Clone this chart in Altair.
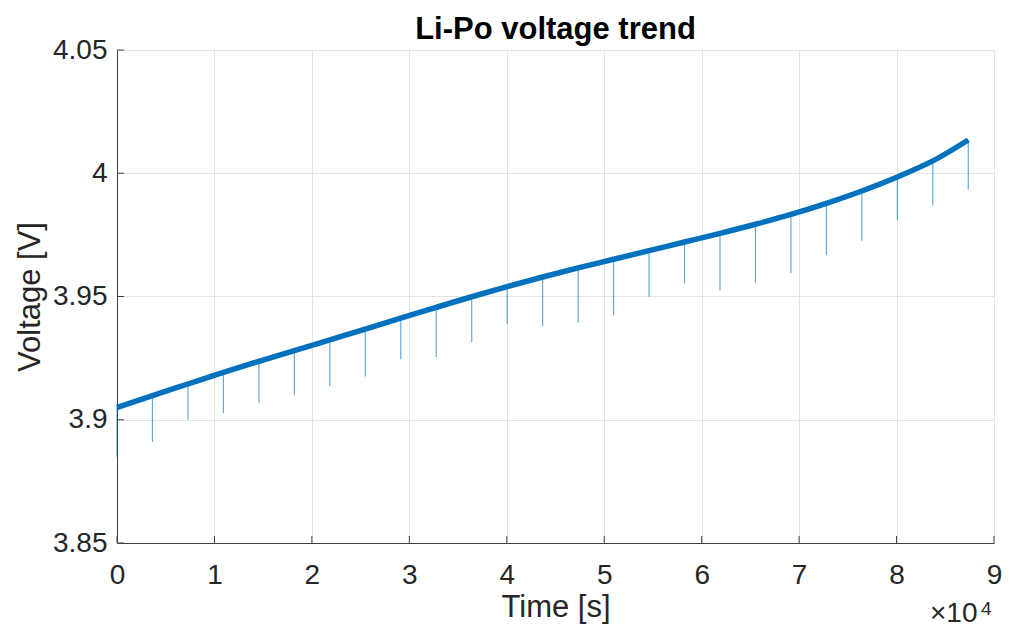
import altair as alt
import pandas as pd

# Sample times (s) at each periodic dip
TIME_S = [0, 3640, 7280, 10920, 14560, 18200, 21840, 25480, 29120, 32760,
          36400, 40040, 43680, 47320, 50960, 54600, 58240, 61880, 65520,
          69160, 72800, 76440, 80080, 83720, 87360]
# Battery voltage trend at those times (V)
LINE_V = [3.905, 3.9098, 3.9145, 3.9192, 3.9237, 3.928, 3.9324, 3.9368,
          3.9412, 3.9456, 3.9499, 3.954, 3.9579, 3.9616, 3.9651, 3.9686,
          3.9721, 3.9756, 3.9793, 3.9833, 3.9878, 3.9928, 3.9985, 4.005,
          4.0135]
# Minimum voltage of each dip (V)
SPIKE_MIN = [3.885, 3.891, 3.900, 3.9027, 3.9068, 3.910, 3.9137, 3.9175,
             3.9245, 3.9255, 3.9314, 3.9388, 3.9379, 3.9394, 3.9424, 3.9499,
             3.9553, 3.9524, 3.9558, 3.9594, 3.9667, 3.9726, 3.9809, 3.987,
             3.9933]

X_TICKS = [0, 10000, 20000, 30000, 40000, 50000, 60000, 70000, 80000, 90000]
Y_TICKS = [3.85, 3.9, 3.95, 4.0, 4.05]

W, H = 877, 493
BLUE = "#0072BD"
FONT = "Liberation Sans"
TXT = "#262626"

line_df = pd.DataFrame({"t": TIME_S, "v": LINE_V})
spike_df = pd.DataFrame({"t": TIME_S, "top": LINE_V, "bottom": SPIKE_MIN})
xt_df = pd.DataFrame({"t": X_TICKS})
yt_df = pd.DataFrame({"v": Y_TICKS})

xscale = alt.Scale(domain=[0, 90000], nice=False)
yscale = alt.Scale(domain=[3.85, 4.05], nice=False, zero=False)

x_axis = alt.Axis(values=X_TICKS, labelExpr="datum.value / 10000",
                  title="Time [s]", titleX=W / 2, titleY=64,
                  titleBaseline="middle", labelPadding=18, ticks=False,
                  tickSize=0, grid=True, labelFlush=False)
y_axis = alt.Axis(values=Y_TICKS, format="~g", title="Voltage [V]",
                  titleX=-87, titleY=H / 2, titleAngle=-90, titleAlign="center",
                  titleBaseline="middle", labelPadding=10, ticks=False,
                  tickSize=0, grid=True, labelFlush=False)

base_line = alt.Chart(line_df).mark_line(color=BLUE, strokeWidth=5.5,
                                         interpolate="monotone").encode(
    x=alt.X("t:Q", scale=xscale, axis=x_axis),
    y=alt.Y("v:Q", scale=yscale, axis=y_axis),
)

spikes = alt.Chart(spike_df).mark_rule(color=BLUE, strokeWidth=1.2,
                                       opacity=0.6).encode(
    x=alt.X("t:Q", scale=xscale),
    y=alt.Y("bottom:Q", scale=yscale),
    y2="top:Q",
)

x_ticks = alt.Chart(xt_df).mark_rule(color="#404040", strokeWidth=1).encode(
    x=alt.X("t:Q", scale=xscale),
    y=alt.value(H), y2=alt.value(H - 7),
)
y_ticks = alt.Chart(yt_df).mark_rule(color="#404040", strokeWidth=1).encode(
    y=alt.Y("v:Q", scale=yscale),
    x=alt.value(0), x2=alt.value(7),
)

title_txt = alt.Chart(pd.DataFrame({"s": ["Li-Po voltage trend"]})).mark_text(
    font=FONT, fontSize=31, fontWeight="bold", color="#000000",
    align="center", baseline="alphabetic"
).encode(text="s:N", x=alt.value(W / 2), y=alt.value(-11))

exp_base = alt.Chart(pd.DataFrame({"s": ["\u00d710"]})).mark_text(
    font=FONT, fontSize=28, color=TXT, align="left", baseline="alphabetic"
).encode(text="s:N", x=alt.value(813), y=alt.value(572))
exp_sup = alt.Chart(pd.DataFrame({"s": ["4"]})).mark_text(
    font=FONT, fontSize=19, color=TXT, align="left", baseline="alphabetic"
).encode(text="s:N", x=alt.value(864), y=alt.value(565))

chart = alt.layer(spikes, base_line, x_ticks, y_ticks, title_txt,
                  exp_base, exp_sup).properties(
    width=W, height=H,
    autosize=alt.AutoSizeParams(type="none"),
    padding={"left": 109, "top": 42, "right": 11, "bottom": 85},
    background="white",
).configure_axis(
    labelFont=FONT, labelFontSize=28, labelColor=TXT,
    titleFont=FONT, titleFontSize=31, titleColor=TXT, titleFontWeight="normal",
    domainColor="#404040", domainWidth=1, gridColor="#e3e3e3", gridWidth=1,
).configure_view(
    stroke="#cfcfcf", strokeWidth=1
)

chart.save("out.html", embed_options={"renderer": "svg", "actions": False})
